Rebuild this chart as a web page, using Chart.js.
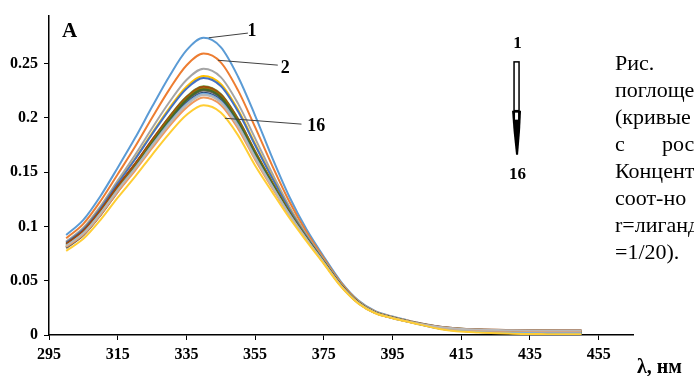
<!DOCTYPE html>
<html>
<head>
<meta charset="utf-8">
<script src="https://cdn.jsdelivr.net/npm/chart.js@4.4.0/dist/chart.umd.min.js"></script>
<style>
html, body { margin: 0; padding: 0; background: #fff; }
</style>
</head>
<body>
<canvas id="spectra" width="694" height="376"></canvas>
<script>
// wavelength, nm
var wavelengths = [300, 305, 310, 315, 320, 325, 330, 335, 340, 345, 350, 355, 360, 365, 370, 375, 380, 385, 390, 395, 400, 410, 420, 430, 440, 450];

// absorbance, curves 1..16
var curve1  = [0.0920, 0.1060, 0.1280, 0.1540, 0.1810, 0.2100, 0.2380, 0.2620, 0.2735, 0.2650, 0.2380, 0.2020, 0.1630, 0.1270, 0.0970, 0.0720, 0.0490, 0.0320, 0.0220, 0.0170, 0.0130, 0.0062, 0.0038, 0.0025, 0.0020, 0.0018];
var curve2  = [0.0890, 0.1023, 0.1233, 0.1480, 0.1730, 0.2000, 0.2259, 0.2481, 0.2590, 0.2510, 0.2254, 0.1913, 0.1557, 0.1226, 0.0945, 0.0705, 0.0480, 0.0313, 0.0215, 0.0167, 0.0128, 0.0068, 0.0045, 0.0035, 0.0030, 0.0030];
var curve3  = [0.0860, 0.0987, 0.1187, 0.1421, 0.1654, 0.1903, 0.2142, 0.2348, 0.2451, 0.2374, 0.2132, 0.1810, 0.1486, 0.1181, 0.0921, 0.0690, 0.0469, 0.0307, 0.0211, 0.0163, 0.0126, 0.0072, 0.0050, 0.0042, 0.0040, 0.0040];
var curve4  = [0.0850, 0.0974, 0.1170, 0.1398, 0.1620, 0.1859, 0.2087, 0.2285, 0.2385, 0.2311, 0.2075, 0.1761, 0.1452, 0.1161, 0.0909, 0.0683, 0.0465, 0.0304, 0.0209, 0.0160, 0.0122, 0.0058, 0.0030, 0.0018, 0.0012, 0.0010];
var curve5  = [0.0850, 0.0973, 0.1167, 0.1395, 0.1615, 0.1848, 0.2073, 0.2266, 0.2366, 0.2292, 0.2059, 0.1747, 0.1443, 0.1156, 0.0906, 0.0681, 0.0464, 0.0303, 0.0208, 0.0160, 0.0122, 0.0060, 0.0035, 0.0022, 0.0018, 0.0015];
var curve6  = [0.0830, 0.0950, 0.1138, 0.1360, 0.1567, 0.1791, 0.2009, 0.2193, 0.2289, 0.2218, 0.1992, 0.1691, 0.1405, 0.1132, 0.0892, 0.0673, 0.0458, 0.0299, 0.0206, 0.0159, 0.0122, 0.0068, 0.0048, 0.0040, 0.0038, 0.0037];
var curve7  = [0.0840, 0.0959, 0.1147, 0.1368, 0.1569, 0.1787, 0.1994, 0.2175, 0.2270, 0.2200, 0.1975, 0.1677, 0.1395, 0.1125, 0.0889, 0.0671, 0.0457, 0.0298, 0.0205, 0.0158, 0.0121, 0.0055, 0.0030, 0.0020, 0.0015, 0.0013];
var curve8  = [0.0840, 0.0959, 0.1148, 0.1371, 0.1575, 0.1796, 0.2006, 0.2188, 0.2284, 0.2213, 0.1987, 0.1687, 0.1402, 0.1129, 0.0891, 0.0672, 0.0458, 0.0299, 0.0206, 0.0159, 0.0122, 0.0072, 0.0052, 0.0046, 0.0044, 0.0043];
var curve9  = [0.0800, 0.0917, 0.1102, 0.1318, 0.1528, 0.1754, 0.1971, 0.2156, 0.2251, 0.2181, 0.1959, 0.1662, 0.1386, 0.1119, 0.0886, 0.0669, 0.0455, 0.0297, 0.0204, 0.0158, 0.0121, 0.0066, 0.0045, 0.0036, 0.0033, 0.0032];
var curve10 = [0.0820, 0.0938, 0.1125, 0.1344, 0.1551, 0.1775, 0.1990, 0.2175, 0.2270, 0.2200, 0.1975, 0.1677, 0.1395, 0.1125, 0.0889, 0.0671, 0.0457, 0.0298, 0.0205, 0.0158, 0.0121, 0.0062, 0.0040, 0.0030, 0.0027, 0.0026];
var curve11 = [0.0810, 0.0926, 0.1110, 0.1326, 0.1528, 0.1745, 0.1956, 0.2135, 0.2229, 0.2160, 0.1940, 0.1646, 0.1374, 0.1113, 0.0882, 0.0667, 0.0454, 0.0296, 0.0204, 0.0157, 0.0120, 0.0052, 0.0028, 0.0018, 0.0014, 0.0012];
var curve12 = [0.0810, 0.0927, 0.1112, 0.1331, 0.1539, 0.1764, 0.1978, 0.2164, 0.2259, 0.2189, 0.1966, 0.1669, 0.1389, 0.1121, 0.0887, 0.0670, 0.0456, 0.0298, 0.0205, 0.0158, 0.0121, 0.0064, 0.0042, 0.0034, 0.0030, 0.0029];
var curve13 = [0.0820, 0.0936, 0.1120, 0.1335, 0.1535, 0.1747, 0.1952, 0.2127, 0.2221, 0.2152, 0.1933, 0.1640, 0.1369, 0.1110, 0.0881, 0.0666, 0.0453, 0.0296, 0.0204, 0.0157, 0.0120, 0.0058, 0.0034, 0.0024, 0.0020, 0.0018];
var curve14 = [0.0810, 0.0924, 0.1106, 0.1318, 0.1511, 0.1720, 0.1921, 0.2093, 0.2185, 0.2117, 0.1902, 0.1614, 0.1351, 0.1100, 0.0875, 0.0662, 0.0451, 0.0294, 0.0202, 0.0156, 0.0120, 0.0066, 0.0046, 0.0038, 0.0035, 0.0034];
var curve15 = [0.0820, 0.0936, 0.1119, 0.1334, 0.1529, 0.1741, 0.1942, 0.2117, 0.2210, 0.2141, 0.1923, 0.1632, 0.1364, 0.1106, 0.0879, 0.0665, 0.0452, 0.0295, 0.0203, 0.0157, 0.0120, 0.0070, 0.0050, 0.0044, 0.0042, 0.0041];
var curve16 = [0.0775, 0.0885, 0.1060, 0.1264, 0.1455, 0.1659, 0.1854, 0.2025, 0.2114, 0.2048, 0.1840, 0.1561, 0.1315, 0.1077, 0.0862, 0.0654, 0.0445, 0.0291, 0.0200, 0.0155, 0.0118, 0.0048, 0.0022, 0.0012, 0.0008, 0.0006];

var series = [curve1, curve2, curve3, curve4, curve5, curve6, curve7, curve8,
              curve9, curve10, curve11, curve12, curve13, curve14, curve15, curve16];

var xTicks = [295, 315, 335, 355, 375, 395, 415, 435, 455];
var yTicks = [0, 0.05, 0.1, 0.15, 0.2, 0.25];

// excel default palette
var colors = ['#5B9BD5', '#ED7D31', '#A5A5A5', '#FFC000', '#4472C4', '#70AD47', '#255E91', '#9E480E',
              '#636363', '#997300', '#264478', '#43682B', '#7CAFDD', '#F1975A', '#B7B7B7', '#FFCD33'];

// numbered curves: label, leader start, leader end, label position (data coords)
var curveLabels = [
    { text: '1',  from: [341.5, 0.2736], to: [352.9, 0.2779], at: [354.1, 0.2792] },
    { text: '2',  from: [344.2, 0.2529], to: [361.6, 0.2484], at: [363.8, 0.2454] },
    { text: '16', from: [346.2, 0.1995], to: [368.5, 0.1941], at: [372.8, 0.1924] }
];

var captionLines = ['Рис.', 'поглощения', '(кривые', 'с', 'Концентрация', 'соот-но', 'r=лиганд', '=1/20).'];

var serif = '"Liberation Serif", "Times New Roman", serif';

var datasets = series.map(function (vals, i) {
    return {
        label: String(i + 1),
        data: vals.map(function (v, j) { return { x: wavelengths[j], y: v }; }),
        borderColor: colors[i],
        backgroundColor: colors[i],
        order: series.length - i
    };
});

var notes = {
    id: 'notes',
    afterDraw: function (chart) {
        var c = chart.ctx;
        var sx = chart.scales.x, sy = chart.scales.y;
        function px(l) { return sx.getPixelForValue(l); }
        function py(v) { return sy.getPixelForValue(v); }
        c.save();
        c.fillStyle = '#000';

        c.font = 'bold 21px ' + serif;
        c.textAlign = 'left';
        c.textBaseline = 'middle';
        c.fillText('A', px(298.8), py(0.279));

        // leader lines and curve numbers
        c.strokeStyle = '#404040';
        c.lineWidth = 1;
        c.font = 'bold 18px ' + serif;
        c.textAlign = 'center';
        curveLabels.forEach(function (lb) {
            c.beginPath();
            c.moveTo(px(lb.from[0]), py(lb.from[1]));
            c.lineTo(px(lb.to[0]), py(lb.to[1]));
            c.stroke();
            c.fillText(lb.text, px(lb.at[0]), py(lb.at[1]));
        });

        // arrow 1 -> 16
        var ax = px(431.1);
        var top = py(0.2514), mid = py(0.2065), neck = py(0.188), tip = py(0.166);
        c.font = 'bold 17px ' + serif;
        c.fillText('1', ax + 1, py(0.2686));
        c.fillText('16', ax + 1, py(0.148));
        c.strokeStyle = '#000';
        c.lineWidth = 1.5;
        c.strokeRect(ax - 2.5, top, 5, mid - top);
        c.beginPath();
        c.moveTo(ax - 4.5, mid);
        c.lineTo(ax + 4.5, mid);
        c.lineTo(ax + 3.5, neck);
        c.lineTo(ax + 1.5, tip);
        c.lineTo(ax - 0.5, tip);
        c.lineTo(ax - 3, neck);
        c.closePath();
        c.fill();
        c.fillStyle = '#fff';
        c.fillRect(ax - 1.5, mid + 2, 3, 7);
        c.fillStyle = '#000';

        // axis title
        c.font = 'bold 20px ' + serif;
        c.textAlign = 'left';
        c.textBaseline = 'alphabetic';
        c.fillText('λ, нм', 637, 373);

        // caption text on the right (cut by the page edge)
        c.font = '22px ' + serif;
        captionLines.forEach(function (t, i) {
            c.fillText(t, 615, 70 + i * 27);
        });
        c.fillText('ростом', 662, 70 + 3 * 27);
        c.restore();
    }
};

new Chart(document.getElementById('spectra').getContext('2d'), {
    type: 'line',
    data: { datasets: datasets },
    options: {
        responsive: false,
        animation: false,
        devicePixelRatio: 1,
        layout: { padding: { top: 13, right: 61, left: 0, bottom: 0 } },
        plugins: { legend: { display: false }, tooltip: { enabled: false } },
        elements: {
            point: { radius: 0 },
            line: { borderWidth: 2, cubicInterpolationMode: 'monotone' }
        },
        scales: {
            x: {
                type: 'linear',
                min: 295,
                max: 465,
                afterBuildTicks: function (s) { s.ticks = xTicks.map(function (v) { return { value: v }; }); },
                afterFit: function (s) { s.height = 41; },
                grid: { display: true, drawOnChartArea: false, color: '#000', tickLength: 5 },
                border: { color: '#000', width: 1.5 },
                ticks: {
                    color: '#000', padding: 5, maxRotation: 0, autoSkip: false,
                    font: { family: serif, weight: 'bold', size: 16 },
                    callback: function (v) { return String(v); }
                }
            },
            y: {
                min: 0,
                max: 0.294,
                afterBuildTicks: function (s) { s.ticks = yTicks.map(function (v) { return { value: v }; }); },
                afterFit: function (s) { s.width = 49; },
                grid: { display: true, drawOnChartArea: false, color: '#000', tickLength: 5 },
                border: { color: '#000', width: 1.5 },
                ticks: {
                    color: '#000', padding: 6, autoSkip: false,
                    font: { family: serif, weight: 'bold', size: 16 },
                    callback: function (v) { return String(v); }
                }
            }
        }
    },
    plugins: [notes]
});
</script>
</body>
</html>
